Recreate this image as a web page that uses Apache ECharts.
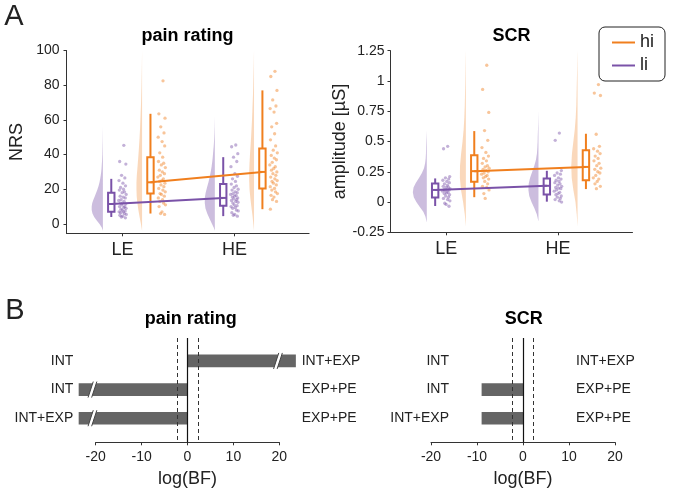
<!DOCTYPE html>
<html>
<head>
<meta charset="utf-8">
<script src="https://cdn.jsdelivr.net/npm/echarts@6/dist/echarts.min.js"></script>
<style>
html, body { margin: 0; padding: 0; background: #fff; }
#chart { width: 673px; height: 493px; }
</style>
</head>
<body>
<div id="chart"></div>
<script>
var FONT = '"Liberation Sans", Arial, sans-serif';
var PURPLE = '#7A52A8', ORANGE = '#F07F1E', TXT = '#222', AX = '#333';

// ---------- panel A data ----------
var groups = ['LE', 'HE'];
var painTicks = [0, 20, 40, 60, 80, 100];

// raw ratings (NRS), li = purple, hi = orange
var painLiLE = [45.3, 36, 34.5, 28, 26.5, 25, 23.5, 22, 21, 20, 19.5, 18.5, 18, 17, 16, 15.5, 15, 14, 13.5, 13, 12, 12, 11.5, 11, 10, 10, 9.5, 9, 8.5, 8, 7.5, 7, 7, 6.5, 6, 5.5, 5, 4.5, 4, 3.5];
var painLiHE = [45.5, 44.5, 40.5, 38.5, 36, 33, 29, 27.5, 26, 24.5, 23, 22, 21, 20, 19.5, 18.5, 18, 17.5, 17, 16.5, 16, 15.5, 15, 14.5, 14, 13.5, 13, 12.5, 12, 11, 10.5, 10, 9.5, 9, 8, 7.5, 6.5, 5.5, 5, 4.5];
var painHiLE = [82.5, 63.5, 61, 56, 52.5, 50, 47.5, 45, 41, 38.5, 36, 35, 34, 32.5, 31, 30, 29, 28, 27, 26, 25, 24.5, 23.5, 22.5, 21.5, 20.5, 19.5, 18.5, 17.5, 17, 16, 15, 14, 13, 12, 11, 10, 7, 6, 5.5];
var painHiHE = [88, 85, 77, 71.5, 68, 66.5, 64.5, 58, 56, 52, 48.5, 45, 42.5, 41, 39.5, 38, 37, 35.5, 34, 33, 32, 31, 30, 29, 28, 27, 26, 25, 24.5, 23.5, 22.5, 21.5, 20.5, 19.5, 18.5, 17.5, 16.5, 15.5, 14, 13, 8.5];
// [min, q1, median, q3, max] for LE, HE
var painBoxLi = [[4, 7, 11.5, 18, 26], [4.5, 10.5, 15, 23, 38.5]];
var painBoxHi = [[6, 17.5, 24, 38.5, 63.5], [8.5, 20.5, 30, 43.5, 77]];
// half violins [value, density]
var painVioLiLE = [[-4,0],[-2,0.1],[0,0.3],[2,0.55],[4,0.78],[6,0.93],[8,1],[10,1],[12,0.95],[14,0.85],[16,0.72],[18,0.6],[20,0.48],[22,0.38],[24,0.3],[26,0.24],[28,0.19],[30,0.15],[32,0.12],[34,0.1],[36,0.08],[38,0.065],[40,0.05],[44,0.035],[48,0.02],[52,0.01],[56,0]];
var painVioLiHE = [[-4,0],[-2,0.1],[0,0.25],[3,0.47],[6,0.68],[9,0.84],[12,0.9],[15,0.9],[18,0.82],[21,0.7],[24,0.57],[27,0.46],[30,0.37],[33,0.29],[36,0.23],[39,0.18],[42,0.14],[45,0.1],[48,0.07],[52,0.04],[56,0.02],[62,0]];
var painVioHiLE = [[-4,0],[-2,0.05],[0,0.1],[4,0.22],[8,0.33],[12,0.42],[16,0.48],[20,0.5],[24,0.5],[28,0.47],[32,0.42],[36,0.37],[40,0.32],[45,0.27],[50,0.22],[55,0.18],[60,0.15],[65,0.12],[70,0.09],[75,0.07],[80,0.05],[85,0.035],[90,0.02],[95,0.01],[100,0]];
var painVioHiHE = [[-4,0],[0,0.06],[5,0.14],[10,0.24],[15,0.33],[20,0.4],[25,0.43],[30,0.43],[35,0.4],[40,0.36],[45,0.31],[50,0.26],[55,0.22],[60,0.18],[65,0.15],[70,0.12],[75,0.09],[80,0.07],[85,0.05],[90,0.03],[95,0.015],[100,0]];

// SCR amplitude [µS]
var scrLiLE = [0.46, 0.44, 0.21, 0.2, 0.19, 0.18, 0.17, 0.16, 0.15, 0.14, 0.13, 0.125, 0.12, 0.11, 0.105, 0.1, 0.1, 0.095, 0.09, 0.08, 0.075, 0.07, 0.06, 0.05, 0.04, 0.03, 0.02, 0.01, -0.01, -0.02, -0.035];
var scrLiHE = [0.57, 0.51, 0.26, 0.24, 0.23, 0.22, 0.2, 0.19, 0.18, 0.17, 0.16, 0.15, 0.14, 0.13, 0.12, 0.115, 0.11, 0.1, 0.09, 0.08, 0.07, 0.06, 0.05, 0.04, 0.03, 0.02, 0.01, 0.0];
var scrHiLE = [1.13, 0.93, 0.74, 0.59, 0.51, 0.45, 0.41, 0.38, 0.36, 0.34, 0.32, 0.3, 0.29, 0.28, 0.27, 0.26, 0.25, 0.24, 0.23, 0.22, 0.21, 0.2, 0.19, 0.17, 0.15, 0.13, 0.12, 0.1, 0.07, 0.03];
var scrHiHE = [0.97, 0.9, 0.88, 0.56, 0.46, 0.44, 0.42, 0.4, 0.38, 0.36, 0.34, 0.32, 0.3, 0.28, 0.27, 0.25, 0.24, 0.22, 0.2, 0.19, 0.17, 0.15, 0.13, 0.11];
var scrBoxLi = [[-0.033, 0.038, 0.1, 0.153, 0.195], [0.003, 0.063, 0.134, 0.195, 0.258]];
var scrBoxHi = [[0.04, 0.167, 0.255, 0.386, 0.586], [0.107, 0.18, 0.29, 0.427, 0.564]];
var scrVioLiLE = [[-0.17,0],[-0.12,0.1],[-0.08,0.25],[-0.04,0.5],[0,0.75],[0.04,0.93],[0.08,1],[0.12,0.95],[0.16,0.78],[0.2,0.55],[0.24,0.35],[0.28,0.2],[0.32,0.12],[0.36,0.08],[0.4,0.06],[0.45,0.05],[0.5,0.035],[0.55,0.015],[0.59,0]];
var scrVioLiHE = [[-0.16,0],[-0.1,0.12],[-0.05,0.3],[0,0.5],[0.05,0.66],[0.1,0.72],[0.15,0.7],[0.2,0.6],[0.25,0.45],[0.3,0.3],[0.35,0.18],[0.4,0.11],[0.45,0.08],[0.5,0.06],[0.55,0.05],[0.6,0.035],[0.65,0.02],[0.7,0.01],[0.75,0]];
var scrVioHiLE = [[-0.2,0],[-0.1,0.08],[0,0.2],[0.1,0.35],[0.2,0.43],[0.3,0.42],[0.4,0.34],[0.5,0.24],[0.6,0.16],[0.7,0.11],[0.8,0.08],[0.9,0.06],[1.0,0.04],[1.1,0.025],[1.2,0.01],[1.25,0]];
var scrVioHiHE = [[-0.2,0],[-0.1,0.06],[0,0.15],[0.1,0.3],[0.2,0.42],[0.3,0.45],[0.4,0.4],[0.5,0.3],[0.6,0.2],[0.7,0.13],[0.8,0.09],[0.9,0.07],[1.0,0.05],[1.1,0.03],[1.2,0.012],[1.25,0]];

// horizontal jitter of the raw points
var jitter = [0.012,-0.025,0.03,-0.008,0.021,-0.031,0.004,0.027,-0.017,0.009,-0.028,0.018,-0.003,0.033,-0.021,0.006,0.025,-0.012,-0.034,0.015,0.001,-0.019,0.029,-0.006,0.02,-0.026,0.011,0.032,-0.014,-0.002,0.024,-0.03,0.008,-0.016,0.017,0.034,-0.023,0.003,-0.01,0.026,-0.029,0.014,-0.004,0.022];

// ---------- panel B data ----------
var bfLeftLabels = ['INT', 'INT', 'INT+EXP'];
var bfRightLabels = ['INT+EXP', 'EXP+PE', 'EXP+PE'];
var bfPain = [23.6, -23.7, -23.7];
var bfPainBreaks = [19.7, -20.7, -20.7];
var bfScr = [0, -9, -9];
var bfThresholds = [-2.3, 2.3];

// ---------- helpers ----------
function violin(ax, edge, dens, scale, color, alpha) {
    return {
        type: 'custom', xAxisIndex: ax, yAxisIndex: ax, silent: true, z: 1,
        data: [[edge, 0]],
        renderItem: function (params, api) {
            var pts = dens.map(function (d) { return api.coord([edge - d[1] * scale, d[0]]); });
            return { type: 'polygon', shape: { points: pts }, style: { fill: color, opacity: alpha } };
        }
    };
}

function cloud(ax, offset, lists, color) {
    var data = [];
    lists.forEach(function (ys, i) {
        ys.forEach(function (y, j) { data.push([i + 1 + offset + jitter[j % jitter.length], y]); });
    });
    return {
        type: 'scatter', xAxisIndex: ax, yAxisIndex: ax, z: 2, silent: true,
        symbolSize: 3.3, itemStyle: { color: color, opacity: 0.45 }, data: data
    };
}

function boxes(ax, offset, stats, color) {
    return {
        type: 'custom', xAxisIndex: ax, yAxisIndex: ax, z: 3, silent: true,
        data: stats.map(function (s, i) { return [i + 1 + offset].concat(s); }),
        renderItem: function (params, api) {
            var x = api.value(0), hw = 3.2;
            var lo = api.coord([x, api.value(1)]), q1 = api.coord([x, api.value(2)]);
            var md = api.coord([x, api.value(3)]), q3 = api.coord([x, api.value(4)]);
            var hi = api.coord([x, api.value(5)]);
            function ln(a, b) {
                return { type: 'line', shape: { x1: a[0], y1: a[1], x2: b[0], y2: b[1] }, style: { stroke: color, lineWidth: 2 } };
            }
            return {
                type: 'group', children: [
                    ln(lo, q1), ln(q3, hi),
                    { type: 'rect', shape: { x: q3[0] - hw, y: q3[1], width: 2 * hw, height: q1[1] - q3[1] }, style: { stroke: color, lineWidth: 2, fill: '#fff' } },
                    ln([md[0] - hw, md[1]], [md[0] + hw, md[1]])
                ]
            };
        }
    };
}

function medLine(ax, name, offset, stats, color) {
    return {
        type: 'line', name: name, xAxisIndex: ax, yAxisIndex: ax, z: 4, silent: true,
        symbol: 'none', lineStyle: { color: color, width: 2 }, itemStyle: { color: color },
        data: stats.map(function (s, i) { return [i + 1 + offset, s[2]]; })
    };
}

function bfBars(xi, yi, vals, breaks) {
    return {
        type: 'custom', xAxisIndex: xi, yAxisIndex: yi, z: 2, silent: true,
        data: vals.map(function (v, i) { return [v, i]; }),
        renderItem: function (params, api) {
            var row = api.value(1), v = api.value(0);
            var a = api.coord([0, row]), b = api.coord([v, row]);
            var h = api.size([0, 0.44])[1];
            var kids = [{ type: 'rect', shape: { x: Math.min(a[0], b[0]), y: a[1] - h / 2, width: Math.abs(b[0] - a[0]), height: h }, style: { fill: '#656565' } }];
            var br = breaks ? breaks[params.dataIndex] : null;
            if (br != null) {
                var c = api.coord([br, row]), dx = 2.6, hh = 8, g = 1.8;
                kids.push({ type: 'polygon', z2: 5, shape: { points: [[c[0] - g - dx, c[1] + hh], [c[0] - g + dx, c[1] - hh], [c[0] + g + dx, c[1] - hh], [c[0] + g - dx, c[1] + hh]] }, style: { fill: '#fff' } });
                kids.push({ type: 'line', z2: 6, shape: { x1: c[0] - g - dx, y1: c[1] + hh, x2: c[0] - g + dx, y2: c[1] - hh }, style: { stroke: '#444', lineWidth: 1 } });
                kids.push({ type: 'line', z2: 6, shape: { x1: c[0] + g - dx, y1: c[1] + hh, x2: c[0] + g + dx, y2: c[1] - hh }, style: { stroke: '#444', lineWidth: 1 } });
            }
            return { type: 'group', children: kids };
        },
        markLine: {
            silent: true, symbol: ['none', 'none'], label: { show: false }, animation: false,
            data: [{ xAxis: 0, lineStyle: { type: 'solid', color: '#111', width: 1.2 } }].concat(
                bfThresholds.map(function (t) { return { xAxis: t, lineStyle: { type: [4, 3], color: '#333', width: 1 } }; }))
        }
    };
}

var series = [];
function raincloud(ax, li, hi, boxLi, boxHi, vioLi, vioHi, scale) {
    [0, 1].forEach(function (i) {
        series.push(violin(ax, i + 1 - 0.175, vioLi[i], scale, PURPLE, 0.38));
        series.push(violin(ax, i + 1 + 0.175, vioHi[i], scale, ORANGE, 0.3));
    });
    series.push(cloud(ax, 0, li, PURPLE));
    series.push(cloud(ax, 0.35, hi, ORANGE));
    series.push(boxes(ax, -0.1, boxLi, PURPLE));
    series.push(boxes(ax, 0.25, boxHi, ORANGE));
    series.push(medLine(ax, 'hi', 0.25, boxHi, ORANGE));
    series.push(medLine(ax, 'li', -0.1, boxLi, PURPLE));
}
raincloud(0, [painLiLE, painLiHE], [painHiLE, painHiHE], painBoxLi, painBoxHi, [painVioLiLE, painVioLiHE], [painVioHiLE, painVioHiHE], 0.1);
raincloud(1, [scrLiLE, scrLiHE], [scrHiLE, scrHiHE], scrBoxLi, scrBoxHi, [scrVioLiLE, scrVioLiHE], [scrVioHiLE, scrVioHiHE], 0.125);
series.push(bfBars(2, 2, bfPain, bfPainBreaks));
series.push(bfBars(4, 5, bfScr, null));

function groupAxis(grid) {
    return {
        type: 'value', gridIndex: grid, min: 0.5, max: 2.667,
        axisLine: { onZero: false, lineStyle: { color: AX, width: 1 } },
        axisTick: { customValues: [1, 2], length: 3, lineStyle: { color: AX } },
        axisLabel: { customValues: [1, 2], margin: 8, fontSize: 18, color: TXT, fontFamily: FONT,
            formatter: function (v) { return groups[Math.round(v) - 1]; } },
        splitLine: { show: false }
    };
}
function bfAxis(grid) {
    return {
        type: 'value', gridIndex: grid, min: -20, max: 20, interval: 10,
        axisLine: { onZero: false, lineStyle: { color: AX, width: 1 } },
        axisTick: { length: 3, lineStyle: { color: AX } },
        axisLabel: { margin: 8, fontSize: 14, color: TXT, fontFamily: FONT },
        splitLine: { show: false },
        name: 'log(BF)', nameLocation: 'middle', nameGap: 28,
        nameTextStyle: { fontSize: 18, color: TXT, fontFamily: FONT }
    };
}
function hiddenX(grid, min, max) {
    return { type: 'value', gridIndex: grid, min: min, max: max, show: false };
}
function rowAxis(grid, pos, labels) {
    return {
        type: 'value', gridIndex: grid, position: pos, min: -0.8, max: 2.84, inverse: true,
        axisLine: { show: false, onZero: false }, axisTick: { show: false }, splitLine: { show: false },
        axisLabel: { customValues: [0, 1, 2], margin: 4, fontSize: 14, color: TXT, fontFamily: FONT,
            formatter: function (v) { return labels[Math.round(v)]; } }
    };
}

var option = {
    animation: false,
    backgroundColor: '#fff',
    textStyle: { fontFamily: FONT },
    grid: [
        { left: 66.5, top: 50.5, width: 242.6, height: 182.8 },
        { left: 390.5, top: 50.7, width: 242, height: 181.6 },
        { left: 77.3, top: 338, width: 220.4, height: 104.3 },
        { left: 95.7, top: 338, width: 183.6, height: 104.3 },
        { left: 453, top: 338, width: 119, height: 104.3 },
        { left: 431, top: 338, width: 184, height: 104.3 }
    ],
    xAxis: [
        groupAxis(0), groupAxis(1),
        hiddenX(2, -24, 24), bfAxis(3),
        hiddenX(4, -15.22, 10.65), bfAxis(5)
    ],
    yAxis: [
        {
            type: 'value', gridIndex: 0, min: -5.4, max: 100,
            axisLine: { show: true, onZero: false, lineStyle: { color: AX, width: 1 } },
            axisTick: { show: true, customValues: painTicks, length: 3, lineStyle: { color: AX } },
            axisLabel: { customValues: painTicks, margin: 7, fontSize: 14, color: TXT, fontFamily: FONT },
            splitLine: { show: false },
            name: 'NRS', nameLocation: 'middle', nameGap: 40,
            nameTextStyle: { fontSize: 18, color: TXT, fontFamily: FONT }
        },
        {
            type: 'value', gridIndex: 1, min: -0.25, max: 1.25, interval: 0.25,
            axisLine: { show: true, onZero: false, lineStyle: { color: AX, width: 1 } },
            axisTick: { show: true, length: 3, lineStyle: { color: AX } },
            axisLabel: { margin: 6, fontSize: 14, color: TXT, fontFamily: FONT },
            splitLine: { show: false },
            name: 'amplitude [µS]', nameLocation: 'middle', nameGap: 40,
            nameTextStyle: { fontSize: 18, color: TXT, fontFamily: FONT }
        },
        rowAxis(2, 'left', bfLeftLabels),
        rowAxis(2, 'right', bfRightLabels),
        { type: 'value', gridIndex: 3, min: 0, max: 1, show: false },
        rowAxis(4, 'left', bfLeftLabels),
        rowAxis(4, 'right', bfRightLabels),
        { type: 'value', gridIndex: 5, min: 0, max: 1, show: false }
    ],
    legend: {
        data: ['hi', 'li'], orient: 'vertical', left: 599, top: 27,
        icon: 'rect', itemWidth: 23, itemHeight: 2, itemGap: 4,
        padding: [6, 11, 6, 13], borderColor: '#222', borderWidth: 1, borderRadius: 6,
        backgroundColor: '#fff', selectedMode: false,
        textStyle: { fontSize: 18, color: TXT, fontFamily: FONT, lineHeight: 19 }
    },
    graphic: [
        { type: 'text', x: 14, y: 17, style: { text: 'A', fontSize: 29, fontFamily: FONT, fill: TXT, align: 'center', verticalAlign: 'middle' } },
        { type: 'text', x: 15, y: 311, style: { text: 'B', fontSize: 29, fontFamily: FONT, fill: TXT, align: 'center', verticalAlign: 'middle' } },
        { type: 'text', x: 187.5, y: 36, style: { text: 'pain rating', fontSize: 18, fontWeight: 'bold', fontFamily: FONT, fill: '#000', align: 'center', verticalAlign: 'middle' } },
        { type: 'text', x: 511.5, y: 36, style: { text: 'SCR', fontSize: 18, fontWeight: 'bold', fontFamily: FONT, fill: '#000', align: 'center', verticalAlign: 'middle' } },
        { type: 'text', x: 190.8, y: 319, style: { text: 'pain rating', fontSize: 18, fontWeight: 'bold', fontFamily: FONT, fill: '#000', align: 'center', verticalAlign: 'middle' } },
        { type: 'text', x: 523.7, y: 319, style: { text: 'SCR', fontSize: 18, fontWeight: 'bold', fontFamily: FONT, fill: '#000', align: 'center', verticalAlign: 'middle' } }
    ],
    series: series
};

var chart = echarts.init(document.getElementById('chart'), null, { renderer: 'canvas' });
chart.setOption(option);
</script>
</body>
</html>
